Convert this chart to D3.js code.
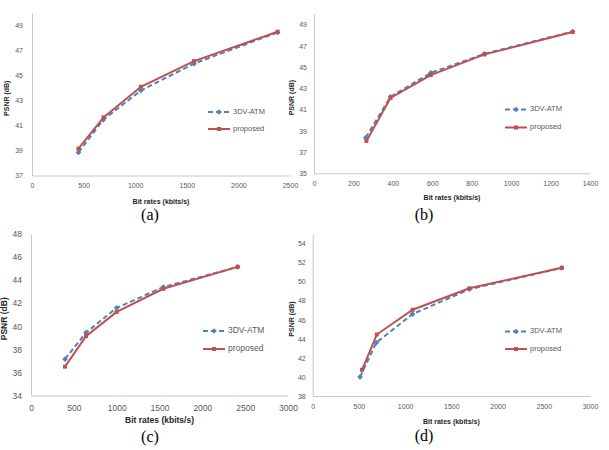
<!DOCTYPE html>
<html>
<head>
<meta charset="utf-8">
<script src="https://cdn.jsdelivr.net/npm/d3@7"></script>
<style>
  body { margin: 0; background: #fff; }
  .axis text { fill: #595959; font-family: "Liberation Sans", Arial, sans-serif; }
  .axis path { stroke: #c8c8c8; }
</style>
</head>
<body>
<div id="chart"></div>
<script>
var seriesNames = ["3DV-ATM", "proposed"];
var captions = ["(a)", "(b)", "(c)", "(d)"];

// (a)
var rateAtmA = [450, 690, 1055, 1570, 2380];
var atmA = [38.85, 41.45, 43.8, 45.95, 48.45];
var ratePropA = [450, 693, 1055, 1570, 2380];
var propA = [39.15, 41.65, 44.1, 46.15, 48.5];
var xTicksA = [0, 500, 1000, 1500, 2000, 2500];
var yTicksA = [37, 39, 41, 43, 45, 47, 49];

// (b)
var rateAtmB = [262, 388, 592, 865, 1312];
var atmB = [38.35, 42.2, 44.45, 46.25, 48.35];
var ratePropB = [266, 388, 592, 865, 1312];
var propB = [38.05, 42.1, 44.25, 46.2, 48.3];
var xTicksB = [0, 200, 400, 600, 800, 1000, 1200, 1400];
var yTicksB = [35, 37, 39, 41, 43, 45, 47, 49];

// (c)
var rateAtmC = [397, 642, 1000, 1544, 2412];
var atmC = [37.15, 39.45, 41.6, 43.4, 45.15];
var ratePropC = [397, 642, 1000, 1544, 2412];
var propC = [36.5, 39.15, 41.25, 43.25, 45.15];
var xTicksC = [0, 500, 1000, 1500, 2000, 2500, 3000];
var yTicksC = [34, 36, 38, 40, 42, 44, 46, 48];

// (d)
var rateAtmD = [512, 688, 1080, 1695, 2695];
var atmD = [40.0, 43.6, 46.6, 49.2, 51.45];
var ratePropD = [534, 693, 1082, 1695, 2695];
var propD = [40.75, 44.45, 47.05, 49.3, 51.45];
var xTicksD = [0, 500, 1000, 1500, 2000, 2500, 3000];
var yTicksD = [38, 40, 42, 44, 46, 48, 50, 52, 54];

var colors = ["#4f81bd", "#c0504d"];

var svg = d3.select("#chart").append("svg")
    .attr("width", 609)
    .attr("height", 450);

function pairs(xs, ys) {
  return xs.map(function(d, i) { return [d, ys[i]]; });
}

var panels = [
  { cap: captions[0], atm: pairs(rateAtmA, atmA), prop: pairs(ratePropA, propA),
    xDomain: [0, 2500], yDomain: [37, 50], xTicks: xTicksA, yTicks: yTicksA,
    left: 32, right: 290, top: 13, bottom: 175.5, fs: 7, tfs: 7, lfs: 7.5,
    xTitle: "Bit rates (kbits/s)", xTitleY: 202, yTitleX: 7, capX: 150, capY: 216,
    legX: 208, legY: 112, legGap: 17, xPad: 8, yPad: 9 },
  { cap: captions[1], atm: pairs(rateAtmB, atmB), prop: pairs(ratePropB, propB),
    xDomain: [0, 1400], yDomain: [35, 50], xTicks: xTicksB, yTicks: yTicksB,
    left: 314, right: 590, top: 14, bottom: 173.3, fs: 7, tfs: 7, lfs: 7.5,
    xTitle: "Bit rates (kbits/s)", xTitleY: 198, yTitleX: 292, capX: 424, capY: 216,
    legX: 505, legY: 109.5, legGap: 18, xPad: 8, yPad: 7 },
  { cap: captions[2], atm: pairs(rateAtmC, atmC), prop: pairs(ratePropC, propC),
    xDomain: [0, 3000], yDomain: [34, 48], xTicks: xTicksC, yTicks: yTicksC,
    left: 31, right: 288, top: 234, bottom: 395.5, fs: 8.5, tfs: 8.5, lfs: 8.5,
    xTitle: "Bit rates  (kbits/s)", xTitleY: 421, yTitleX: 5, capX: 150, capY: 438,
    legX: 203, legY: 331, legGap: 18, xPad: 9, yPad: 9 },
  { cap: captions[3], atm: pairs(rateAtmD, atmD), prop: pairs(ratePropD, propD),
    xDomain: [0, 3000], yDomain: [38, 55], xTicks: xTicksD, yTicks: yTicksD,
    left: 312.7, right: 590, top: 234, bottom: 396, fs: 7, tfs: 7, lfs: 7.5,
    xTitle: "Bit rates (kbits/s)", xTitleY: 422, yTitleX: 292, capX: 424, capY: 437,
    legX: 505, legY: 331.5, legGap: 17.5, xPad: 8, yPad: 7 }
];

function marker(g, kind, cx, cy, color) {
  if (kind === 0) {
    // small diamond
    g.append("rect")
      .attr("x", -2).attr("y", -2)
      .attr("width", 4).attr("height", 4)
      .attr("transform", "translate(" + cx + "," + cy + ") rotate(45)")
      .attr("fill", color);
  } else {
    g.append("rect")
      .attr("x", cx - 2).attr("y", cy - 2)
      .attr("width", 4).attr("height", 4)
      .attr("fill", color);
  }
}

function drawPanel(p) {
  var g = svg.append("g");

  var x = d3.scaleLinear().domain(p.xDomain).range([p.left, p.right]);
  var y = d3.scaleLinear().domain(p.yDomain).range([p.bottom, p.top]);

  var xAxis = d3.axisBottom(x).tickValues(p.xTicks).tickFormat(d3.format("d"))
      .tickSize(0).tickPadding(p.xPad);
  var yAxis = d3.axisLeft(y).tickValues(p.yTicks).tickFormat(d3.format("d"))
      .tickSize(0).tickPadding(p.yPad);

  g.append("g")
    .attr("class", "axis")
    .attr("transform", "translate(0," + p.bottom + ")")
    .call(xAxis)
    .selectAll("text").style("font-size", p.fs + "px");

  g.append("g")
    .attr("class", "axis")
    .attr("transform", "translate(" + p.left + ",0)")
    .call(yAxis)
    .selectAll("text").style("font-size", p.fs + "px");

  // axis titles
  g.append("text")
    .attr("x", (p.left + p.right) / 2)
    .attr("y", p.xTitleY)
    .attr("text-anchor", "middle")
    .attr("dominant-baseline", "middle")
    .style("font-family", "Liberation Sans, Arial, sans-serif")
    .style("font-weight", "bold")
    .style("font-size", p.tfs + "px")
    .attr("fill", "#262626")
    .text(p.xTitle);

  var yMid = (p.top + p.bottom) / 2 + 4;
  g.append("text")
    .attr("transform", "translate(" + p.yTitleX + "," + yMid + ") rotate(-90)")
    .attr("text-anchor", "middle")
    .attr("dominant-baseline", "middle")
    .style("font-family", "Liberation Sans, Arial, sans-serif")
    .style("font-weight", "bold")
    .style("font-size", p.tfs + "px")
    .attr("fill", "#262626")
    .text("PSNR (dB)");

  // caption
  g.append("text")
    .attr("x", p.capX)
    .attr("y", p.capY)
    .attr("text-anchor", "middle")
    .attr("dominant-baseline", "middle")
    .style("font-family", "Liberation Serif, Times New Roman, serif")
    .style("font-size", "16px")
    .attr("fill", "#000")
    .text(p.cap);

  var line = d3.line()
    .x(function(d) { return x(d[0]); })
    .y(function(d) { return y(d[1]); });

  var sets = [p.atm, p.prop];
  sets.forEach(function(data, k) {
    g.append("path")
      .datum(data)
      .attr("fill", "none")
      .attr("stroke", colors[k])
      .attr("stroke-width", 2)
      .attr("stroke-dasharray", k === 0 ? "5,3" : null)
      .attr("d", line);
    data.forEach(function(d) {
      marker(g, k, x(d[0]), y(d[1]), colors[k]);
    });
  });

  // legend
  seriesNames.forEach(function(name, k) {
    var ly = p.legY + k * p.legGap;
    g.append("line")
      .attr("x1", p.legX).attr("x2", p.legX + 22)
      .attr("y1", ly).attr("y2", ly)
      .attr("stroke", colors[k])
      .attr("stroke-width", 2)
      .attr("stroke-dasharray", k === 0 ? "5,3" : null);
    marker(g, k, p.legX + 11, ly, colors[k]);
    g.append("text")
      .attr("x", p.legX + 25)
      .attr("y", ly)
      .attr("dominant-baseline", "middle")
      .style("font-family", "Liberation Sans, Arial, sans-serif")
      .style("font-size", p.lfs + "px")
      .attr("fill", "#595959")
      .text(name);
  });
}

panels.forEach(drawPanel);
</script>
</body>
</html>
